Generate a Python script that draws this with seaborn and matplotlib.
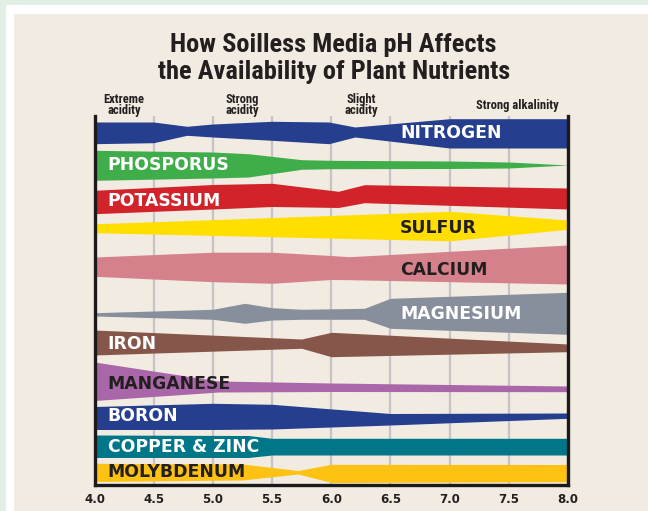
import matplotlib
matplotlib.use("Agg")
import matplotlib.pyplot as plt
import seaborn as sns
from matplotlib.patches import Rectangle

# ---------------- data (band edges, in chart units; 116 = top, 485 = bottom) ----
ph_ticks = [4.0, 4.5, 5.0, 5.5, 6.0, 6.5, 7.0, 7.5, 8.0]
tick_labels = ["4.0", "4.5", "5.0", "5.5", "6.0", "6.5", "7.0", "7.5", "8.0"]

zone_names = ["Extreme\nacidity", "Strong\nacidity", "Slight\nacidity", "Strong alkalinity"]
zone_ph = [4.25, 5.25, 6.25, 7.57]

nutrients = ["NITROGEN", "PHOSPORUS", "POTASSIUM", "SULFUR", "CALCIUM", "MAGNESIUM",
             "IRON", "MANGANESE", "BORON", "COPPER & ZINC", "MOLYBDENUM"]

nitrogen_ph = [4.0, 4.5, 4.78, 5.0, 5.5, 5.98, 6.2, 7.0, 8.0]
nitrogen_top = [122, 122, 126.3, 124, 121.3, 122, 127, 118.7, 118.7]
nitrogen_bot = [143.7, 142.7, 135.3, 137, 140.3, 143.7, 137, 148, 148]

phosphorus_ph = [4.0, 5.0, 5.3, 5.75, 6.0, 7.0, 7.5, 8.0]
phosphorus_top = [150.3, 152, 153.7, 159.7, 160.3, 161, 162, 165]
phosphorus_bot = [180.3, 178, 177, 169.3, 168.7, 168.5, 168, 165]

potassium_ph = [4.0, 5.0, 5.5, 6.06, 6.28, 8.0]
potassium_top = [190.3, 184.5, 183.3, 191.3, 184.7, 188]
potassium_bot = [213.7, 209, 206.5, 207.5, 202.7, 209]

sulfur_ph = [4.0, 7.0, 8.0]
sulfur_top = [223.8, 211.3, 220]
sulfur_bot = [232.7, 240.8, 229.3]

calcium_ph = [4.0, 5.0, 5.5, 6.0, 6.15, 8.0]
calcium_top = [257, 252.2, 252.2, 255.5, 256.7, 245]
calcium_bot = [276.3, 281.7, 283.3, 279.5, 279.7, 284]

magnesium_ph = [4.0, 5.0, 5.27, 5.5, 5.75, 6.28, 6.5, 8.0]
magnesium_top = [312.7, 309.3, 303.3, 307.7, 309.3, 308.3, 298.3, 292.3]
magnesium_bot = [316, 319.3, 323.3, 320, 319.3, 319.3, 328.3, 334.3]

iron_ph = [4.0, 5.75, 6.0, 8.0]
iron_top = [330, 339, 332.3, 344]
iron_bot = [355, 348.3, 356.7, 351.7]

manganese_ph = [4.0, 5.05, 6.0, 8.0]
manganese_top = [362, 381, 383, 386]
manganese_bot = [400.5, 392, 391.5, 391.7]

boron_ph = [4.0, 5.0, 5.5, 6.5, 8.0]
boron_top = [406.5, 403.3, 404.3, 413.5, 413]
boron_bot = [429.5, 429.5, 429, 425, 418.3]

copper_ph = [4.0, 5.3, 5.5, 8.0]
copper_top = [435, 435.5, 438.3, 438.3]
copper_bot = [457.5, 457.5, 455, 455]

molybdenum_ph = [4.0, 5.25, 5.72, 6.0, 8.0]
molybdenum_top = [463.3, 464, 470.5, 464.3, 464.5]
molybdenum_bot = [481.5, 480, 474, 482.5, 481.7]

# ---------------- style ----------------
band_colors = ["#253e8e", "#3fae4a", "#d2232a", "#ffde00", "#d4818c", "#878e9c",
               "#87564a", "#a967a9", "#253e8e", "#007689", "#fdc212"]
label_colors = ["white", "white", "white", "#231f20", "#231f20", "white",
                "white", "#231f20", "white", "white", "#231f20"]
label_x = [6.58, 4.11, 4.11, 6.58, 6.58, 6.58, 4.11, 4.11, 4.11, 4.11, 4.11]
label_y = [133, 165, 201, 228, 270, 314, 344, 384, 416, 447, 472]

bands = [
    (nitrogen_ph, nitrogen_top, nitrogen_bot),
    (phosphorus_ph, phosphorus_top, phosphorus_bot),
    (potassium_ph, potassium_top, potassium_bot),
    (sulfur_ph, sulfur_top, sulfur_bot),
    (calcium_ph, calcium_top, calcium_bot),
    (magnesium_ph, magnesium_top, magnesium_bot),
    (iron_ph, iron_top, iron_bot),
    (manganese_ph, manganese_top, manganese_bot),
    (boron_ph, boron_top, boron_bot),
    (copper_ph, copper_top, copper_bot),
    (molybdenum_ph, molybdenum_top, molybdenum_bot),
]

sns.set_theme(style="white")
plt.rcParams['font.family'] = ['DejaVu Sans']
narrow = ['Roboto Condensed', 'Liberation Sans Narrow', 'DejaVu Sans']
dark = "#231f20"

W, H = 648, 511
fig = plt.figure(figsize=(W / 100, H / 100), dpi=100)
fig.patch.set_facecolor('#e1efe4')


def fx(px):
    return px / W


def fy(py):
    return 1 - py / H


fig.patches.append(Rectangle((fx(6), 0), 1, fy(5), transform=fig.transFigure,
                             facecolor='white', edgecolor='none', zorder=-3))
fig.patches.append(Rectangle((fx(14), 0), 1, fy(14), transform=fig.transFigure,
                             facecolor='#f2ebe1', edgecolor='none', zorder=-2))

ax = fig.add_axes([fx(94.5), fy(485), fx(568) - fx(94.5), fy(116) - fy(485)])
ax.set_zorder(1)
ax.set_facecolor('none')
ax.set_xlim(4, 8)
ax.set_ylim(485, 116)

ax.set_xticks(ph_ticks)
ax.set_xticklabels(tick_labels, fontweight='bold')
ax.set_yticks([])
ax.tick_params(axis='x', length=0, pad=6, labelsize=8.5, labelcolor=dark)
ax.grid(axis='x', color='#c4c4c8', lw=1.6)
ax.grid(axis='y', visible=False)
ax.set_axisbelow(True)

for side in ['left', 'right', 'bottom']:
    ax.spines[side].set_visible(True)
    ax.spines[side].set_color('#1a1a1a')
    ax.spines[side].set_linewidth(2.4)
ax.spines['top'].set_visible(False)

for (ph, top, bot), c in zip(bands, band_colors):
    ax.fill_between(ph, top, bot, color=c, lw=0, zorder=2)

for name, x, y, c in zip(nutrients, label_x, label_y, label_colors):
    ax.text(x, y, name, color=c, fontsize=12.4, fontweight='bold', ha='left', va='center', zorder=3)

for name, x in zip(zone_names, zone_ph):
    ax.text(x, 105, name, family=narrow, fontstretch='condensed', fontsize=9, fontweight='bold',
            color=dark, ha='center', va='center', linespacing=0.8, clip_on=False)

fig.text(fx(333), fy(45), "How Soilless Media pH Affects", family=narrow, fontstretch='condensed',
         fontsize=19, fontweight='bold', color=dark, ha='center', va='center')
fig.text(fx(334), fy(72), "the Availability of Plant Nutrients", family=narrow,
         fontstretch='condensed', fontsize=19, fontweight='bold', color=dark, ha='center', va='center')

fig.savefig("out.png", dpi=100, facecolor=fig.get_facecolor())
